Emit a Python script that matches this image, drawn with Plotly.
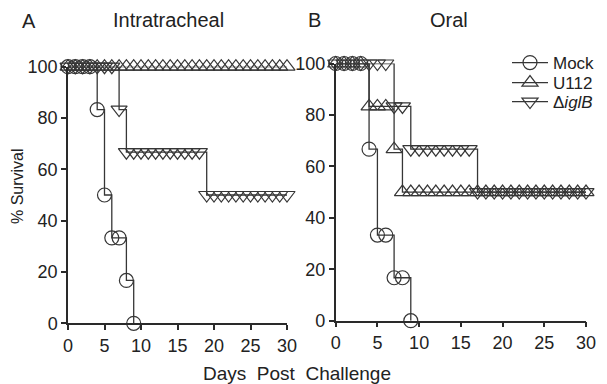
import plotly.graph_objects as go

# ---------------- data ----------------
days = list(range(0, 31))

# Panel A: Intratracheal
it_mock_days = [0, 1, 2, 3, 4, 5, 6, 7, 8, 9]
it_mock_surv = [100, 100, 100, 100, 83.3, 50, 33.3, 33.3, 16.7, 0]

it_u112_days = days
it_u112_surv = [100] * 31

it_iglb_days = days
it_iglb_surv = [100] * 7 + [83.3] + [66.7] * 11 + [50] * 12

# Panel B: Oral
or_mock_days = [0, 1, 2, 3, 4, 5, 6, 7, 8, 9]
or_mock_surv = [100, 100, 100, 100, 66.7, 33.3, 33.3, 16.7, 16.7, 0]

or_u112_days = days
or_u112_surv = [100] * 4 + [83.3] * 3 + [66.7] + [50] * 23

or_iglb_days = days
or_iglb_surv = [100] * 7 + [83.3] * 2 + [66.7] * 8 + [50] * 14

x_ticks = [0, 5, 10, 15, 20, 25, 30]
y_ticks = [0, 20, 40, 60, 80, 100]

series_names = ["Mock", "U112", "Δ<i>iglB</i>"]
symbols = ["circle-open", "triangle-up-open", "triangle-down-open"]

# ---------------- figure ----------------
FONT = "Liberation Sans, Arial, sans-serif"
LINE = "#363636"
AX = "#2a2a2a"
OFF = 8  # page body margin
W, H = 607 - OFF, 384 - OFF


def px_x(p):
    return (p - OFF) / W


def px_y(p):
    return 1 - (p - OFF) / H


legend_ids = ["legend", "legend2", "legend3"]
legend_tops = [45, 65, 84]

fig = go.Figure()

panels = [
    ("x", "y", [(it_mock_days, it_mock_surv), (it_u112_days, it_u112_surv), (it_iglb_days, it_iglb_surv)]),
    ("x2", "y2", [(or_mock_days, or_mock_surv), (or_u112_days, or_u112_surv), (or_iglb_days, or_iglb_surv)]),
]

for pi, (xa, ya, sers) in enumerate(panels):
    for si, (xs, ys) in enumerate(sers):
        fig.add_trace(go.Scatter(
            x=xs, y=ys, xaxis=xa, yaxis=ya,
            mode="lines+markers", line_shape="hv",
            line=dict(color=LINE, width=1.3),
            marker=dict(symbol=symbols[si], size=14, color=LINE, line=dict(width=1.2, color=LINE)),
            name=series_names[si], showlegend=(pi == 1), legend=legend_ids[si],
            cliponaxis=False,
        ))

axis_common = dict(
    showgrid=False, zeroline=False, showline=True, linecolor=AX, linewidth=1.5,
    ticks="outside", ticklen=5, tickwidth=1.5, tickcolor=AX, automargin=False,
    tickfont=dict(family=FONT, size=18, color="#222"),
)

legend_common = dict(
    xanchor="left", yanchor="top",
    font=dict(family=FONT, size=17, color="#222"),
    bgcolor="rgba(0,0,0,0)", itemwidth=36,
)

fig.update_layout(
    width=W, height=H,
    margin=dict(l=0, r=0, t=0, b=0),
    paper_bgcolor="white", plot_bgcolor="white",
    font=dict(family=FONT, color="#222"),
    xaxis=dict(domain=[px_x(68), px_x(287)], range=[0, 30], tickvals=x_ticks, anchor="y", **axis_common),
    yaxis=dict(domain=[px_y(323.3), px_y(66.7)], range=[0, 100], tickvals=y_ticks, anchor="x", **axis_common),
    xaxis2=dict(domain=[px_x(335.7), px_x(586)], range=[0, 30], tickvals=x_ticks, anchor="y2", **axis_common),
    yaxis2=dict(domain=[px_y(320.7), px_y(63.5)], range=[0, 100], tickvals=y_ticks, anchor="x2", **axis_common),
    showlegend=True,
    legend=dict(x=px_x(507), y=px_y(legend_tops[0]), **legend_common),
    legend2=dict(x=px_x(507), y=px_y(legend_tops[1]), **legend_common),
    legend3=dict(x=px_x(507), y=px_y(legend_tops[2]), **legend_common),
)

ann = [
    dict(text="A", x=px_x(29), y=px_y(21), size=20),
    dict(text="Intratracheal", x=px_x(168), y=px_y(20), size=20),
    dict(text="B", x=px_x(314), y=px_y(20), size=20),
    dict(text="Oral", x=px_x(449), y=px_y(20), size=20),
    dict(text="Days  Post  Challenge", x=px_x(297), y=px_y(373), size=19),
    dict(text="% Survival", x=px_x(18), y=px_y(186), size=16, textangle=-90),
]
for a in ann:
    fig.add_annotation(xref="paper", yref="paper", showarrow=False,
                       xanchor="center", yanchor="middle",
                       font=dict(family=FONT, color="#222", size=a["size"]),
                       text=a["text"], x=a["x"], y=a["y"], textangle=a.get("textangle", 0))

fig.write_html("out.html")
